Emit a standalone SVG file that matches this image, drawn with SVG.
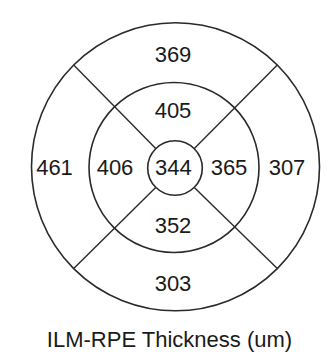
<svg xmlns="http://www.w3.org/2000/svg" width="335" height="359" viewBox="0 0 335 359">
<style>
.ring{fill:none;stroke:#2a2a2a;stroke-width:1.6}
.div{stroke:#2a2a2a;stroke-width:1.4}
.lbl{font-family:"Liberation Sans",Arial,sans-serif;font-size:22px;fill:#1a1a1a;text-anchor:middle}
</style>
<rect width="335" height="359" fill="#ffffff"/>
<g id="rings">
<circle class="ring" cx="175.5" cy="166.8" r="144"/>
<circle class="ring" cx="174" cy="167.5" r="85"/>
<circle class="ring" cx="175" cy="168" r="27.3"/>
</g>
<g id="connectors">
<line class="div" x1="155.7" y1="148.6" x2="73.7" y2="65"/>
<line class="div" x1="194.3" y1="148.6" x2="277.3" y2="65"/>
<line class="div" x1="155.7" y1="187.4" x2="73.7" y2="268.6"/>
<line class="div" x1="194.3" y1="187.4" x2="277.3" y2="268.6"/>
</g>
<g id="outer-superior"><text class="lbl" x="173" y="61.5">369</text></g>
<g id="inner-superior"><text class="lbl" x="173" y="118">405</text></g>
<g id="outer-temporal"><text class="lbl" x="54.5" y="175">461</text></g>
<g id="inner-temporal"><text class="lbl" x="115" y="175">406</text></g>
<g id="center"><text class="lbl" x="173.3" y="175">344</text></g>
<g id="inner-nasal"><text class="lbl" x="229" y="175">365</text></g>
<g id="outer-nasal"><text class="lbl" x="287" y="175">307</text></g>
<g id="inner-inferior"><text class="lbl" x="173" y="233">352</text></g>
<g id="outer-inferior"><text class="lbl" x="173" y="291">303</text></g>
<g id="title"><text class="lbl" x="169.5" y="347">ILM-RPE Thickness (um)</text></g>
</svg>
